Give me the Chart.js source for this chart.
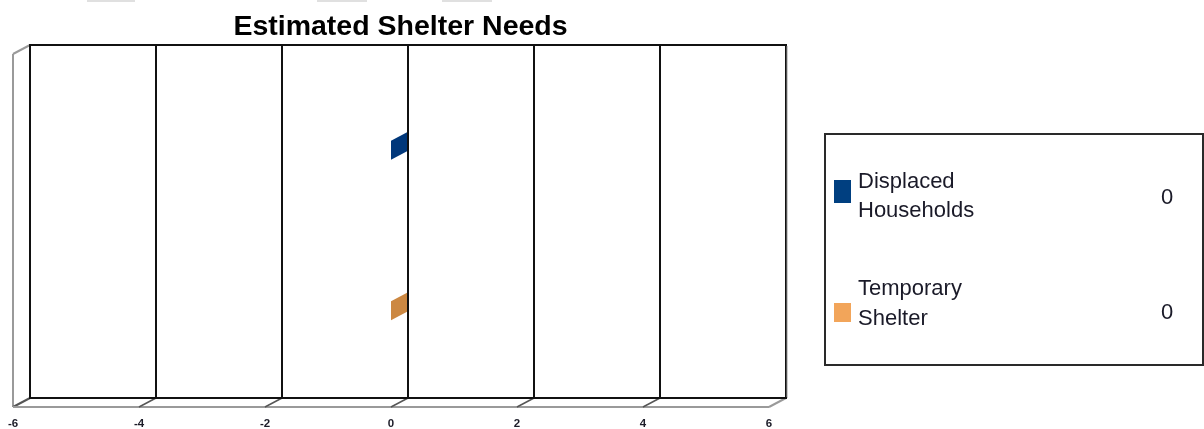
<!DOCTYPE html>
<html>
<head>
<meta charset="utf-8">
<title>Estimated Shelter Needs</title>
<script src="https://cdn.jsdelivr.net/npm/chart.js@4/dist/chart.umd.min.js"></script>
<style>
  html, body { margin: 0; padding: 0; background: #ffffff; }
  #wrap { position: relative; width: 1204px; height: 429px; overflow: hidden; }
  #chart { display: block; }
  .tab { position: absolute; top: 0; height: 2px; background: #e0e0e0; }
</style>
</head>
<body>
<div id="wrap">
  <canvas id="chart" width="1204" height="429"></canvas>
  <div class="tab" style="left:87px;width:48px"></div>
  <div class="tab" style="left:317px;width:50px"></div>
  <div class="tab" style="left:442px;width:50px"></div>
</div>
<script>
// Chart data
const chartTitle = 'Estimated Shelter Needs';
const categories = ['Displaced Households', 'Temporary Shelter'];
const values = [0, 0];
const xTicks = [-6, -4, -2, 0, 2, 4, 6];
const barColors = ['#003f80', '#f2a55a'];
const barSideColors = ['#00377a', '#cc8842'];

const FONT = "'Liberation Sans', Arial, Helvetica, sans-serif";

// 3D depth of the plot box: front plane sits left and below the back plane
const DEPTH_X = -17;
const DEPTH_Y = 9;
const WALL_INSET = 16;

function line(ctx, x1, y1, x2, y2, color, width) {
  ctx.beginPath();
  ctx.moveTo(x1, y1);
  ctx.lineTo(x2, y2);
  ctx.strokeStyle = color;
  ctx.lineWidth = width;
  ctx.stroke();
}

const boxPlugin = {
  id: 'box3d',
  afterDraw(chart) {
    const ctx = chart.ctx;
    const xs = chart.scales.x;
    const area = chart.chartArea;
    const left = xs.getPixelForValue(xTicks[0]);
    const right = xs.getPixelForValue(xTicks[xTicks.length - 1]);
    const top = area.top - WALL_INSET;
    const bottom = area.bottom + WALL_INSET;

    ctx.save();

    // left wall and floor (front edges)
    line(ctx, left + DEPTH_X, top + DEPTH_Y, left + DEPTH_X, bottom + DEPTH_Y, '#9a9a9a', 2);
    line(ctx, left + DEPTH_X, top + DEPTH_Y, left, top, '#9a9a9a', 2);
    line(ctx, left + DEPTH_X, bottom + DEPTH_Y, left, bottom, '#555555', 2);
    line(ctx, left + DEPTH_X, bottom + DEPTH_Y, right + DEPTH_X, bottom + DEPTH_Y, '#9a9a9a', 2);
    line(ctx, right + DEPTH_X, bottom + DEPTH_Y, right, bottom, '#9a9a9a', 2);

    // floor tick marks
    xTicks.slice(1, -1).forEach(v => {
      const px = xs.getPixelForValue(v);
      line(ctx, px + DEPTH_X, bottom + DEPTH_Y, px, bottom, '#555555', 1.5);
    });

    // bars: front face, top face and end cap
    const meta = chart.getDatasetMeta(0);
    meta.data.forEach((bar, i) => {
      const x0 = Math.min(bar.base, bar.x);
      const x1 = Math.max(bar.base, bar.x);
      const y0 = bar.y - bar.height / 2;
      const y1 = bar.y + bar.height / 2;
      ctx.fillStyle = barColors[i];
      if (x1 > x0) {
        ctx.fillRect(x0 + DEPTH_X, y0 + DEPTH_Y, x1 - x0, y1 - y0);
        ctx.beginPath();
        ctx.moveTo(x0, y0);
        ctx.lineTo(x1, y0);
        ctx.lineTo(x1 + DEPTH_X, y0 + DEPTH_Y);
        ctx.lineTo(x0 + DEPTH_X, y0 + DEPTH_Y);
        ctx.closePath();
        ctx.fill();
      }
      ctx.fillStyle = barSideColors[i];
      ctx.beginPath();
      ctx.moveTo(x1, y0);
      ctx.lineTo(x1, y1);
      ctx.lineTo(x1 + DEPTH_X, y1 + DEPTH_Y);
      ctx.lineTo(x1 + DEPTH_X, y0 + DEPTH_Y);
      ctx.closePath();
      ctx.fill();
    });

    // back wall grid lines
    xTicks.forEach(v => {
      const px = xs.getPixelForValue(v);
      line(ctx, px, top, px, bottom, '#111111', 2);
    });
    line(ctx, right + 1, top + 1, right + 1, bottom, '#999999', 1);
    line(ctx, left - 1, top, right + 1, top, '#111111', 2);
    line(ctx, left - 1, bottom, right + 1, bottom, '#111111', 2);

    // tick labels on the front edge of the floor
    ctx.font = 'bold 11.5px ' + FONT;
    ctx.fillStyle = '#1c1c28';
    ctx.textAlign = 'center';
    ctx.textBaseline = 'middle';
    xTicks.forEach(v => {
      const px = xs.getPixelForValue(v);
      ctx.fillText(String(v), px + DEPTH_X, bottom + DEPTH_Y + 17);
    });

    // title
    ctx.font = 'bold 28.5px ' + FONT;
    ctx.fillStyle = '#000000';
    ctx.textAlign = 'center';
    ctx.textBaseline = 'alphabetic';
    ctx.fillText(chartTitle, (left + DEPTH_X + right) / 2 + 1, 35);

    // legend box with values
    const lx = right + 39, ly = 134, lw = 1203 - lx, lh = 231;
    ctx.strokeStyle = '#2a2a2a';
    ctx.lineWidth = 2;
    ctx.strokeRect(lx, ly, lw, lh);

    const rows = [
      { base: [188, 217], sw: [180, 23], val: 197.5 },
      { base: [295, 325], sw: [303, 19], val: 312.5 }
    ];
    categories.forEach((name, i) => {
      const r = rows[i];
      ctx.fillStyle = barColors[i];
      ctx.fillRect(lx + 9, r.sw[0], 17, r.sw[1]);
      ctx.font = '22px ' + FONT;
      ctx.fillStyle = '#1a1a28';
      ctx.textAlign = 'left';
      ctx.textBaseline = 'alphabetic';
      name.split(' ').forEach((word, k) => {
        ctx.fillText(word, lx + 33, r.base[k]);
      });
      ctx.textAlign = 'center';
      ctx.textBaseline = 'middle';
      ctx.fillText(String(values[i]), 1167, r.val);
    });

    ctx.restore();
  }
};

new Chart(document.getElementById('chart'), {
  type: 'bar',
  data: {
    labels: categories,
    datasets: [{
      label: chartTitle,
      data: values,
      backgroundColor: barColors,
      borderWidth: 0,
      barThickness: 19
    }]
  },
  options: {
    indexAxis: 'y',
    responsive: false,
    devicePixelRatio: 1,
    animation: false,
    layout: { padding: { left: 30, top: 61, right: 418, bottom: 47 } },
    scales: {
      x: { display: false, min: xTicks[0], max: xTicks[xTicks.length - 1] },
      y: { display: false, offset: true }
    },
    plugins: {
      legend: { display: false },
      title: { display: false },
      tooltip: { enabled: false }
    }
  },
  plugins: [boxPlugin]
});
</script>
</body>
</html>
